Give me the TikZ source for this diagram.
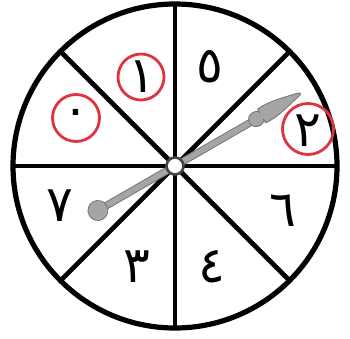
\documentclass[tikz,border=0pt]{standalone}
\usepackage{fontspec}
\newfontfamily\arabicfont[Script=Arabic]{DejaVu Sans}
\TeXXeTstate=1
\definecolor{ringred}{RGB}{222,52,62}
\definecolor{ptrfill}{RGB}{165,165,165}
\definecolor{ptrline}{RGB}{115,115,115}
\begin{document}
\begin{tikzpicture}[x=1pt,y=1pt,
  digit/.style={font=\arabicfont\fontsize{50}{50}\selectfont, inner sep=0pt},
  redring/.style={draw=ringred, line width=2.8pt},
  spoke/.style={line width=4.6pt, black},
  ptr/.style={fill=ptrfill, draw=ptrline, line width=0.8pt}]
\useasboundingbox (0,0) rectangle (350,338);
\coordinate (c) at (175,172);
% spokes
\foreach \a in {0,45,90,135} {
  \draw[spoke] (c) ++(\a:163) -- ++(\a+180:326);
}
% outer circle
\draw[line width=5.2pt] (c) circle[radius=162];
% digits
\node[digit] (d5) at (210,271) {\beginR ٥\endR};
\node[digit] (d1) at (142,261) {\beginR ١\endR};
\node[digit] (d0) at (76,220) {\beginR ٠\endR};
\node[digit] (d2) at (308,207) {\beginR ٢\endR};
\node[digit] (d6) at (283,127) {\beginR ٦\endR};
\node[digit] (d4) at (212,71) {\beginR ٤\endR};
\node[digit] (d3) at (137,71) {\beginR ٣\endR};
\node[digit] (d7) at (60,132) {\beginR ٧\endR};
% red rings
\draw[redring] (141,261) circle[radius=23];
\draw[redring] (76,220) circle[radius=23.5];
\draw[redring] (308,209) circle[radius=25.5];
% pointer
\begin{scope}[shift={(c)}, rotate=30]
  \draw[ptr] (-89,-3.3) rectangle (94,3.3);
  \draw[ptr] (-89,0) circle[radius=10];
  \draw[ptr] (94,0) ellipse[x radius=8, y radius=7.5];
  \draw[ptr] (100,8) .. controls (114,9.5) and (130,4.5) .. (142,2)
             .. controls (146,1) and (146,-1) .. (142,-1.5)
             .. controls (130,-4) and (114,-9.5) .. (100,-8) -- cycle;
  \fill[ptrfill] (88,-3.2) rectangle (101,3.2);
\end{scope}
% hub
\node[circle, fill=white, draw=ptrline!60!black, line width=2.6pt, minimum size=17pt, inner sep=0pt] (hub) at (c) {};
\end{tikzpicture}
\end{document}
